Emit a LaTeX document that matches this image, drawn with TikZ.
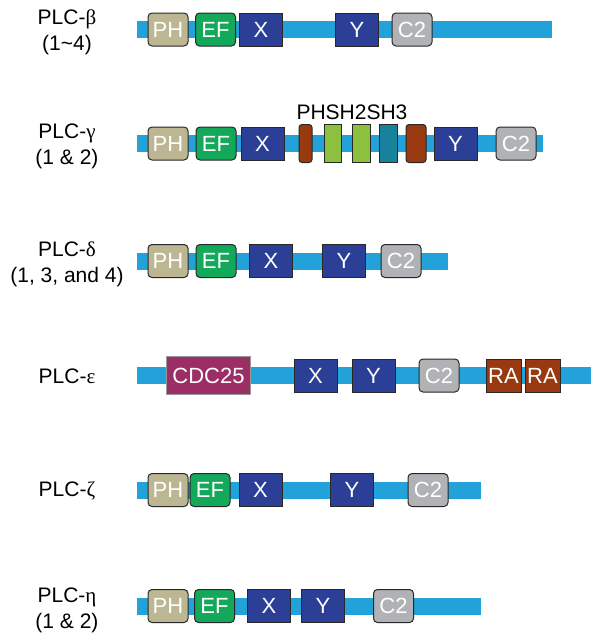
\documentclass[tikz,border=0pt]{standalone}
\usepackage{fontspec}
\setmainfont{Liberation Sans}
\newfontfamily\greekfont{Liberation Serif}
\usepackage{tikz}
\usetikzlibrary{positioning}

\definecolor{barblue}{RGB}{34,162,216}
\definecolor{phtan}{RGB}{188,182,146}
\definecolor{efgreen}{RGB}{20,168,90}
\definecolor{xynavy}{RGB}{44,63,151}
\definecolor{ctwogray}{RGB}{177,178,181}
\definecolor{cdcpurple}{RGB}{155,47,101}
\definecolor{rabrown}{RGB}{152,57,15}
\definecolor{shgreen}{RGB}{139,193,63}
\definecolor{shteal}{RGB}{23,130,153}
\definecolor{boxedge}{RGB}{40,40,40}

\begin{document}
\begin{tikzpicture}[x=1pt, y=-1pt, font=\fontsize{21}{26}\selectfont,
	bar/.style={fill=barblue},
	dom/.style={draw=boxedge, line width=1pt, minimum height=33pt, inner sep=0pt, text=white, font=\fontsize{22}{26}\selectfont},
	rdom/.style={dom, rounded corners=4pt},
	phbox/.style={rdom, fill=phtan, minimum width=40pt},
	efbox/.style={rdom, fill=efgreen, minimum width=40pt},
	catbox/.style={dom, fill=xynavy, minimum width=43pt},
	ctwobox/.style={rdom, fill=ctwogray, minimum width=40pt},
	cdcbox/.style={dom, draw=gray!80, fill=cdcpurple, minimum width=84pt, minimum height=38pt},
	rabox/.style={dom, fill=rabrown, minimum width=35pt},
	shbox/.style={dom, minimum height=38pt},
	plc/.style={align=center}]
			\useasboundingbox (0,0) rectangle (591,637);

			% PLC-beta
			\fill[bar] (137,21) rectangle (552,38);
			\node[plc] (l-b) at (67,32) {PLC-{\greekfont β}\\(1\textasciitilde4)};
			\node[phbox] (b-ph) at (168,29.5) {PH};
			\node[efbox] (b-ef) at (215.5,29.5) {EF};
			\node[catbox] (b-x) at (261,29.5) {X};
			\node[catbox] (b-y) at (357,29.5) {Y};
			\node[ctwobox] (b-c2) at (412,29.5) {C2};

			% PLC-gamma
			\fill[bar] (137,135) rectangle (543,152);
			\node[plc] (l-g) at (67,146) {PLC-{\greekfont γ}\\(1 \& 2)};
			\node[phbox] (g-ph) at (168,143.5) {PH};
			\node[efbox] (g-ef) at (216,143.5) {EF};
			\node[catbox] (g-x) at (262.5,143.5) {X};
			\node[shbox, fill=rabrown, rounded corners=3pt, minimum width=13pt] (g-ph2) at (305.5,143.5) {};
			\node[shbox, fill=shgreen, minimum width=17.5pt] (g-sh2a) at (333,143.5) {};
			\node[shbox, fill=shgreen, minimum width=18pt] (g-sh2b) at (361,143.5) {};
			\node[shbox, fill=shteal, minimum width=18pt] (g-sh3) at (388,143.5) {};
			\node[shbox, fill=rabrown, rounded corners=3pt, minimum width=20pt] (g-ph3) at (416,143.5) {};
			\node[catbox] (g-y) at (455.5,143.5) {Y};
			\node[ctwobox] (g-c2) at (516,143.5) {C2};
			\node (g-sh) at (352,112) {PHSH2SH3};

			% PLC-delta
			\fill[bar] (137,252.5) rectangle (448,269.5);
			\node[plc] (l-d) at (67,264) {PLC-{\greekfont δ}\\(1, 3, and 4)};
			\node[phbox] (d-ph) at (168,261) {PH};
			\node[efbox] (d-ef) at (216,261) {EF};
			\node[catbox] (d-x) at (271,261) {X};
			\node[catbox] (d-y) at (344,261) {Y};
			\node[ctwobox] (d-c2) at (401,261) {C2};

			% PLC-epsilon
			\fill[bar] (137,367) rectangle (591,384);
			\node (l-e) at (67,376) {PLC-{\greekfont ε}};
			\node[cdcbox] (e-cdc) at (208.5,375.5) {CDC25};
			\node[catbox] (e-x) at (315.5,375.5) {X};
			\node[catbox] (e-y) at (373.5,375.5) {Y};
			\node[ctwobox] (e-c2) at (439,375.5) {C2};
			\node[rabox] (e-ra1) at (503.5,375.5) {RA};
			\node[rabox] (e-ra2) at (542.5,375.5) {RA};

			% PLC-zeta
			\fill[bar] (137,481.5) rectangle (481,498.5);
			\node (l-z) at (67,491) {PLC-{\greekfont ζ}};
			\node[phbox] (z-ph) at (168,490) {PH};
			\node[efbox] (z-ef) at (210,490) {EF};
			\node[catbox] (z-x) at (260.5,490) {X};
			\node[catbox] (z-y) at (352,490) {Y};
			\node[ctwobox] (z-c2) at (428,490) {C2};

			% PLC-eta
			\fill[bar] (137,597.5) rectangle (481,614.5);
			\node[plc] (l-h) at (67,610) {PLC-{\greekfont η}\\(1 \& 2)};
			\node[phbox] (h-ph) at (168,606) {PH};
			\node[efbox] (h-ef) at (214.5,606) {EF};
			\node[catbox] (h-x) at (269,606) {X};
			\node[catbox] (h-y) at (323,606) {Y};
			\node[ctwobox] (h-c2) at (393.5,606) {C2};
		\end{tikzpicture}
\end{document}
